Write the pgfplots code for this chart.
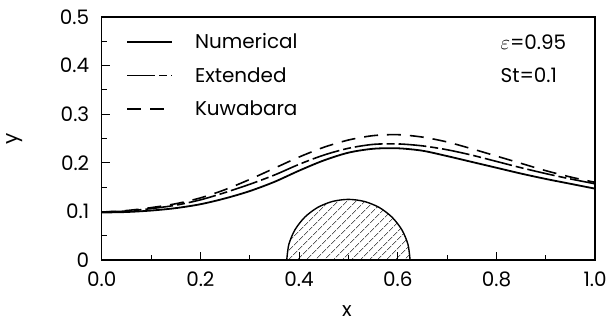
\documentclass[border=0pt]{standalone}
\usepackage{fontspec}
\setmainfont{Poppins}
\usepackage{pgfplots}
\pgfplotsset{compat=1.18}
\usetikzlibrary{patterns.meta}
\pgfplotstableread{
x y
0.00 0.098
0.05 0.099
0.10 0.102
0.15 0.107
0.20 0.115
0.25 0.127
0.30 0.142
0.35 0.161
0.40 0.184
0.45 0.205
0.50 0.221
0.55 0.229
0.60 0.230
0.65 0.225
0.70 0.214
0.75 0.202
0.80 0.190
0.85 0.178
0.90 0.167
0.95 0.157
1.00 0.147
}\numerical
\pgfplotstableread{
x y
0.00 0.099
0.05 0.101
0.10 0.106
0.15 0.113
0.20 0.124
0.25 0.139
0.30 0.156
0.35 0.175
0.40 0.197
0.45 0.216
0.50 0.230
0.55 0.238
0.60 0.239
0.65 0.235
0.70 0.227
0.75 0.216
0.80 0.203
0.85 0.190
0.90 0.178
0.95 0.167
1.00 0.157
}\extended
\pgfplotstableread{
x y
0.00 0.099
0.05 0.102
0.10 0.108
0.15 0.116
0.20 0.128
0.25 0.145
0.30 0.166
0.35 0.189
0.40 0.212
0.45 0.232
0.50 0.247
0.55 0.256
0.60 0.258
0.65 0.253
0.70 0.243
0.75 0.229
0.80 0.214
0.85 0.199
0.90 0.184
0.95 0.171
1.00 0.160
}\kuwabara
\begin{document}
\begin{tikzpicture}
\begin{axis}[
  at={(0pt,0pt)}, anchor=south west,
  scale only axis, width=495pt, height=244pt,
  xmin=0, xmax=1, ymin=0, ymax=0.5,
  xtick={0,0.2,...,1.0}, ytick={0,0.1,...,0.5},
  minor xtick={0.1,0.3,0.5,0.7,0.9},
  minor ytick={0.05,0.15,0.25,0.35,0.45},
  xtick pos=bottom, ytick pos=left,
  tick align=inside,
  major tick length=8pt, minor tick length=5pt,
  every tick/.style={line width=1pt, black},
  axis line style={line width=1.5pt},
  xticklabel style={/pgf/number format/fixed, /pgf/number format/fixed zerofill, /pgf/number format/precision=1, anchor=center, yshift=-19pt},
  yticklabel style={/pgf/number format/fixed, /pgf/number format/precision=1, anchor=east, xshift=-9pt},
  /pgf/number format/assume math mode=true,
  tick label style={font=\fontsize{20}{22}\selectfont},
  xlabel={x}, ylabel={y},
  every axis x label/.style={at={(axis description cs:0.497,-0.208)}, anchor=center, inner sep=0pt, font=\fontsize{20}{22}\selectfont},
  every axis y label/.style={at={(axis description cs:-0.176,0.5)}, anchor=center, rotate=90, font=\fontsize{20}{22}\selectfont},
  legend style={at={(axis description cs:0.05,0.94)}, anchor=north west, draw=none, fill=none,
    inner sep=0pt, font=\fontsize{20}{22}\selectfont, row sep=13pt,
    /tikz/every odd column/.append style={column sep=20pt}},
  legend cell align=left,
  legend image code/.code={\draw[#1, line width=1.7pt] (0pt,0pt) -- (45pt,0pt);},
]
\addplot[black, line width=1.8pt, smooth] table {\numerical};
\addlegendentry{Numerical}
\addplot[black, line width=1.6pt, smooth, dash pattern=on 28pt off 4pt on 8pt off 4pt] table {\extended};
\addlegendentry{Extended}
\addplot[black, line width=1.6pt, smooth, dash pattern=on 14pt off 9pt] table {\kuwabara};
\addlegendentry{Kuwabara}
\addplot[black, line width=1.4pt, smooth, pattern={Lines[angle=45, distance=6.5pt, line width=0.6pt]}, forget plot] coordinates {
(0.625,0) (0.6207,0.0324) (0.6083,0.0625) (0.5884,0.0884) (0.5625,0.1083) (0.5324,0.1207) (0.5,0.125) (0.4676,0.1207) (0.4375,0.1083) (0.4116,0.0884) (0.3917,0.0625) (0.3793,0.0324) (0.375,0)
};
\node[anchor=west, font=\fontsize{20}{22}\selectfont, inner sep=0pt] at (rel axis cs:0.808,0.898) {$\varepsilon$=0.95};
\node[anchor=west, font=\fontsize{20}{22}\selectfont, inner sep=0pt] at (rel axis cs:0.808,0.762) {St=0.1};
\end{axis}
\path (-102pt,-65pt) rectangle (508pt,261pt);
\end{tikzpicture}
\end{document}
